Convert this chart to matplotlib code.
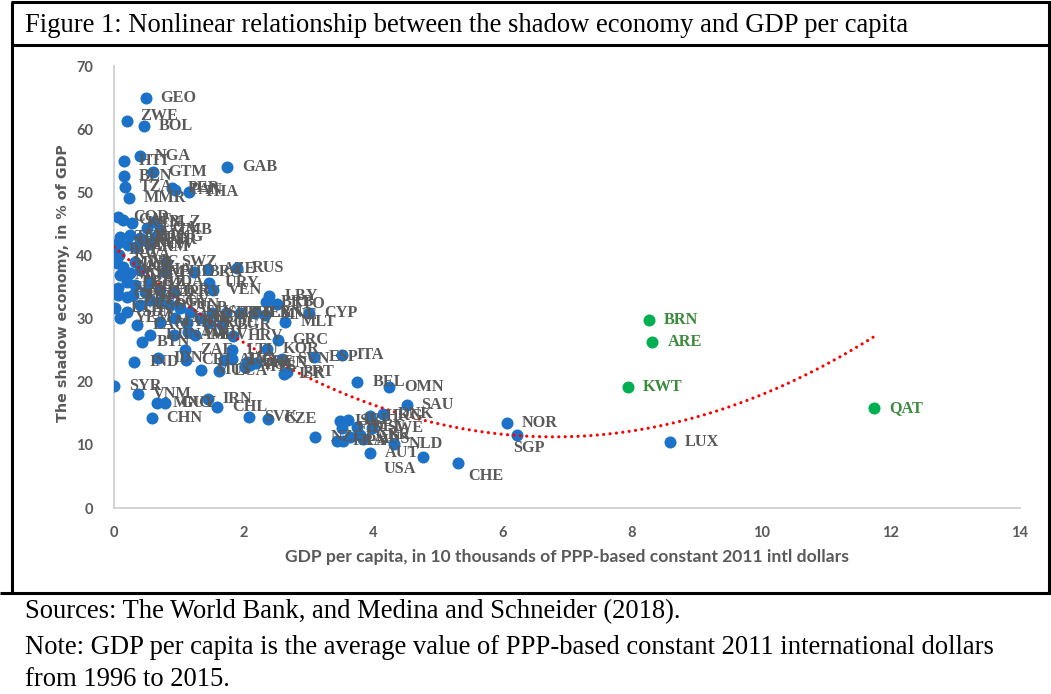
import numpy as np
import matplotlib
matplotlib.use('Agg')
import matplotlib.pyplot as plt
from matplotlib.lines import Line2D

# ---------------- data ----------------
codes = [
    'GEO', 'ZWE', 'BOL', 'NGA', 'HTI', 'GAB', 'BEN', 'GTM', 'TZA', 'PER', 'PAN', 'THA', 'MMR',
    'COD', 'CAF', 'KEN', 'UGA', 'BLZ', 'ZMB', 'TCD', 'MLI', 'NPL', 'CMR', 'PNG', 'NER', 'SEN',
    'ARM', 'CIV', 'BDI', 'RWA', 'MWI', 'MOZ', 'NIC', 'SWZ', 'MDG', 'KHM', 'GHA', 'PHL', 'LBR',
    'SLE', 'KGZ', 'MDA', 'UKR', 'HND', 'PRY',
    'GIN', 'TJK', 'PAK', 'ETH', 'SDN', 'LSO', 'ECU', 'EGY', 'TUN', 'ALB', 'SLV', 'DOM', 'SRB',
    'TUR', 'MEX', 'LBN', 'MNE', 'LAO', 'YEM', 'MAR', 'JAM', 'BIH', 'MKD', 'ROU', 'BGR', 'BTN',
    'FJI', 'NAM', 'MDV', 'HRV',
    'BRA', 'AZE', 'RUS', 'URY', 'VEN', 'LBY', 'BRB', 'TTO', 'CYP', 'MLT', 'GRC', 'KOR', 'LTU',
    'ZAF', 'ITA', 'ESP', 'SVN', 'EST', 'LVA', 'ARG', 'CRI', 'MYS', 'POL', 'HUN', 'ISR', 'PRT',
    'MUS', 'LCA',
    'IND', 'IDN', 'SYR', 'VNM', 'MNG', 'GUY', 'IRN', 'CHL', 'CHN', 'SVK', 'CZE', 'NZL', 'ISL',
    'IRL', 'FIN', 'DEU', 'SWE', 'GBR', 'FRA', 'JPN', 'CAN', 'AUS', 'HKG', 'DNK', 'BEL', 'OMN',
    'SAU', 'NLD', 'AUT', 'USA', 'CHE', 'NOR', 'SGP', 'LUX', 'KWT', 'BRN', 'ARE', 'QAT',
]

# GDP per capita, in 10 thousands of PPP-based constant 2011 intl dollars
gdp = [
    0.49, 0.20, 0.46, 0.40, 0.15, 1.75, 0.15, 0.60, 0.17, 0.90, 0.95, 1.16, 0.23,
    0.06, 0.14, 0.28, 0.51, 0.62, 0.71, 0.09, 0.25, 0.40, 0.45, 0.63, 0.06, 0.22,
    0.34, 0.56, 0.00, 0.08, 0.05, 0.14, 0.32, 0.80, 0.09, 0.25, 0.40, 0.79, 0.20,
    0.06, 0.32, 0.56, 0.71, 0.48, 0.93,
    0.06, 0.20, 0.29, 0.02, 0.20, 0.40, 0.56, 0.71, 0.87, 1.02, 1.17, 1.33, 1.51,
    1.73, 1.95, 2.18, 2.33, 0.36, 0.09, 0.71, 0.94, 1.13, 1.14, 1.45, 1.67, 0.43,
    0.56, 0.93, 1.25, 1.84,
    1.24, 1.45, 1.90, 1.47, 1.53, 2.40, 2.35, 2.52, 3.01, 2.65, 2.53, 2.37, 1.82,
    1.10, 3.52, 3.09, 2.60, 2.05, 1.83, 1.70, 1.12, 2.03, 2.10, 2.20, 2.62, 2.68,
    1.34, 1.62,
    0.31, 0.68, 0.00, 0.37, 0.67, 0.79, 1.45, 1.59, 0.58, 2.09, 2.38, 3.11, 3.49,
    3.62, 3.52, 3.75, 3.99, 3.80, 3.45, 3.54, 3.65, 3.85, 3.96, 4.16, 3.76, 4.25,
    4.52, 4.32, 3.96, 4.78, 5.31, 6.07, 6.23, 8.59, 7.94, 8.26, 8.32, 11.75,
]

# The shadow economy, in % of GDP
shadow = [
    64.9, 61.3, 60.5, 55.8, 55.0, 54.0, 52.6, 53.2, 50.9, 50.7, 50.3, 50.1, 49.1,
    46.1, 45.6, 45.2, 44.4, 45.3, 44.1, 42.9, 43.3, 42.8, 42.5, 42.9, 42.0, 41.7,
    41.4, 41.8, 40.9, 40.1, 38.8, 38.2, 39.0, 39.0, 36.9, 37.2, 37.7, 37.4, 35.8,
    34.9, 35.3, 35.8, 34.5, 34.2, 34.2,
    33.8, 33.4, 33.8, 31.7, 31.1, 32.2, 33.0, 32.6, 32.2, 31.7, 31.1, 30.1, 30.9,
    30.9, 30.9, 30.9, 30.6, 29.0, 30.1, 29.5, 30.1, 29.3, 27.9, 29.3, 29.0, 26.3,
    27.4, 27.4, 27.4, 27.3,
    37.4, 37.9, 38.0, 35.7, 34.6, 33.5, 32.6, 32.3, 30.9, 29.5, 26.6, 25.2, 25.0,
    25.0, 24.2, 23.9, 23.6, 23.1, 23.6, 23.4, 23.4, 22.4, 22.7, 22.9, 21.3, 21.5,
    21.8, 21.7,
    23.1, 23.8, 19.3, 18.1, 16.7, 16.7, 17.3, 16.0, 14.3, 14.4, 14.1, 11.3, 13.8,
    13.9, 12.7, 12.8, 12.6, 11.6, 10.6, 10.6, 11.2, 11.0, 14.6, 14.9, 20.0, 19.2,
    16.3, 10.2, 8.7, 8.0, 7.2, 13.4, 11.6, 10.4, 19.1, 29.8, 26.3, 15.8,
]

green_codes = ['BRN', 'ARE', 'KWT', 'QAT']

x_ticks = [0, 2, 4, 6, 8, 10, 12, 14]
y_ticks = [0, 10, 20, 30, 40, 50, 60, 70]

title = 'Figure 1: Nonlinear relationship between the shadow economy and GDP per capita'
x_label = 'GDP per capita, in 10 thousands of PPP-based constant 2011 intl dollars'
y_label = 'The shadow economy, in % of GDP'
source_lines = [
    'Sources: The World Bank, and Medina and Schneider (2018).',
    'Note: GDP per capita is the average value of PPP-based constant 2011 international dollars',
    'from 1996 to 2015.',
]

# ---------------- styling ----------------
W, H = 1051, 694
BLUE = '#1B72C8'
GREEN = '#00B050'
GREEN_TXT = '#3A8A3C'
GRAY_TXT = '#595959'
AXIS_GRAY = '#D0D0D0'

label_offsets = {'SGP': (-4, -13), 'CHE': (11, -13), 'USA': (-40, -12), 'ZWE': (13, 5)}

fig = plt.figure(figsize=(W / 100, H / 100), dpi=100)
fig.patch.set_facecolor('white')

ax_l, ax_r, ax_t, ax_b = 114, 1020, 66, 508
ax = fig.add_axes([ax_l / W, 1 - ax_b / H, (ax_r - ax_l) / W, (ax_b - ax_t) / H])

gdp_a = np.array(gdp)
sh_a = np.array(shadow)
is_green = np.array([c in green_codes for c in codes])

ax.scatter(gdp_a[~is_green], sh_a[~is_green], s=75, color=BLUE, zorder=3, linewidths=0)
ax.scatter(gdp_a[is_green], sh_a[is_green], s=75, color=GREEN, zorder=3, linewidths=0)

# polynomial (order 2) trendline as in the spreadsheet chart
coef = np.polyfit(gdp_a, sh_a, 2)
xt = np.linspace(gdp_a.min(), gdp_a.max(), 300)
ax.plot(xt, np.polyval(coef, xt), color='#FF0000', lw=2.3,
        linestyle=(0, (0.01, 2.0)), dash_capstyle='round', zorder=4)

for c, xv, yv in zip(codes, gdp, shadow):
    dx, dy = label_offsets.get(c, (15, 0))
    ax.annotate(c, (xv, yv), xytext=(dx, dy), textcoords='offset pixels',
                ha='left', va='center', fontsize=11.7, fontweight='bold',
                family='Liberation Serif',
                color=GREEN_TXT if c in green_codes else GRAY_TXT, zorder=5)

ax.set_xlim(0, 14)
ax.set_ylim(0, 70)
ax.set_xticks(x_ticks)
ax.set_yticks(y_ticks)
ax.set_xticklabels([str(v) for v in x_ticks])
ax.set_yticklabels([str(v) for v in y_ticks])
for lab in ax.get_xticklabels() + ax.get_yticklabels():
    lab.set_fontfamily('Lato')
    lab.set_fontweight('bold')
    lab.set_fontsize(10.5)
    lab.set_color(GRAY_TXT)
ax.tick_params(axis='both', length=0)
ax.tick_params(axis='x', pad=13)
ax.tick_params(axis='y', pad=15)

for s in ['top', 'right']:
    ax.spines[s].set_visible(False)
for s in ['left', 'bottom']:
    ax.spines[s].set_color(AXIS_GRAY)
    ax.spines[s].set_linewidth(1.3)

ax.set_xlabel(x_label, fontsize=12.6, fontweight='bold', color=GRAY_TXT, family='Lato')
ax.set_ylabel(y_label, fontsize=10.3, fontweight='bold', color=GRAY_TXT, family='DejaVu Sans')
ax.xaxis.set_label_coords(0.5, (ax_b - 557) / (ax_b - ax_t))
ax.xaxis.label.set_va('center')
ax.yaxis.set_label_coords((63 - ax_l) / (ax_r - ax_l), (ax_b - 283) / (ax_b - ax_t))
ax.yaxis.label.set_va('center')
ax.yaxis.label.set_ha('center')

# frame lines of the figure box
def fline(x0, y0, x1, y1, lw=2.2):
    fig.add_artist(Line2D([x0 / W, x1 / W], [1 - y0 / H, 1 - y1 / H], color='black',
                          lw=lw, solid_capstyle='butt'))

fline(11, 2, W, 2)
fline(12, 2, 12, 593)
fline(1049, 2, 1049, 593)
fline(11, 45, W, 45)
fline(0, 593, W, 593)

fig.text(25 / W, 1 - 25 / H, title, family='Liberation Serif', fontsize=19.2,
         va='center', ha='left', color='black')
for txt, yy in zip(source_lines, [612, 647, 680]):
    fig.text(25 / W, 1 - yy / H, txt, family='Liberation Serif', fontsize=19.2,
             va='center', ha='left', color='black')

fig.savefig('out.png', dpi=100)
